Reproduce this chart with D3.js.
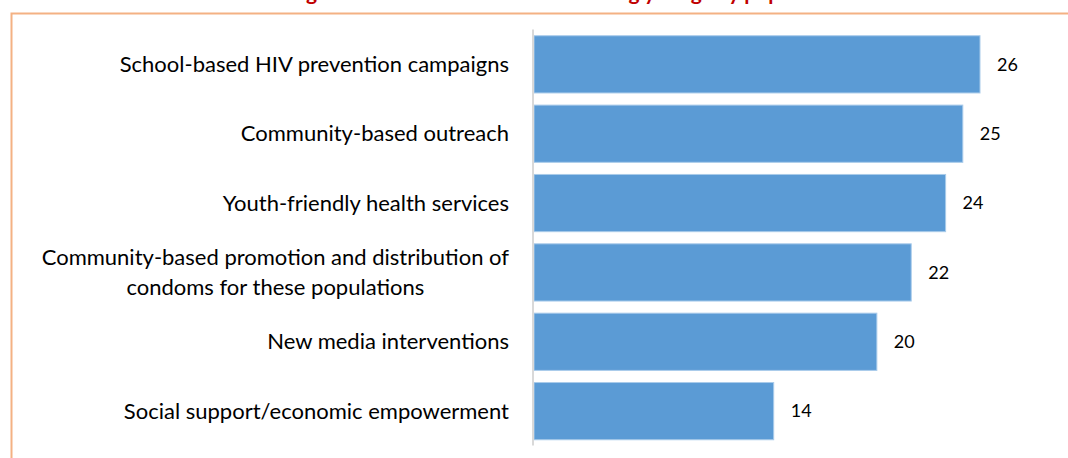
<!DOCTYPE html>
<html>
<head>
<meta charset="utf-8">
<script src="https://cdn.jsdelivr.net/npm/d3@7"></script>
<style>
  body { margin: 0; background: #fff; }
  svg { display: block; font-family: Lato, "Open Sans", sans-serif; }
</style>
</head>
<body>
<div id="chart"></div>
<script>
// data
var categories = [
  "School-based HIV prevention campaigns",
  "Community-based outreach",
  "Youth-friendly health services",
  "Community-based promotion and distribution of|condoms for these populations",
  "New media interventions",
  "Social support/economic empowerment"
];
var values = [26, 25, 24, 22, 20, 14];
var title = "Ranking of interventions most used among young key populations";

var width = 1068, height = 458;
var margin = {top: 29.5, right: 88, bottom: 12, left: 533};

var svg = d3.select("#chart")
  .append("svg")
  .attr("width", width)
  .attr("height", height);

// frame (top + left border of the chart box)
svg.append("path")
  .attr("d", "M11.5," + height + "V13.5H" + width)
  .attr("fill", "none")
  .attr("stroke", "#F4B183")
  .attr("stroke-width", 2);

// title, mostly cut off at the top of the crop
svg.append("text")
  .attr("x", 548)
  .attr("y", 0)
  .attr("text-anchor", "middle")
  .style("font-size", "21px")
  .style("font-weight", "bold")
  .style("fill", "#C00000")
  .text(title);

var x = d3.scaleLinear()
  .domain([0, 26])
  .range([margin.left, 980]);

var y = d3.scaleBand()
  .domain(categories)
  .range([margin.top, height - margin.bottom])
  .paddingInner(0.175)
  .paddingOuter(0.09);

// bars
svg.selectAll(".bar")
  .data(values)
  .enter()
  .append("rect")
    .attr("class", "bar")
    .attr("x", x(0) + 1)
    .attr("y", function(d, i) { return y(categories[i]); })
    .attr("width", function(d) { return x(d) - x(0) - 1; })
    .attr("height", y.bandwidth())
    .attr("fill", "#5B9BD5")
    .attr("stroke", "#A9CBEA")
    .attr("stroke-width", 1);

// vertical axis line
svg.append("line")
  .attr("x1", x(0))
  .attr("x2", x(0))
  .attr("y1", margin.top)
  .attr("y2", height - margin.bottom - 0.5)
  .attr("stroke", "#D9D9D9")
  .attr("stroke-width", 2);

// value labels
svg.selectAll(".val")
  .data(values)
  .enter()
  .append("text")
    .attr("class", "val")
    .attr("x", function(d) { return x(d) + 17; })
    .attr("y", function(d, i) { return y(categories[i]) + y.bandwidth() / 2; })
    .attr("dy", "0.35em")
    .style("font-size", "18px")
    .style("fill", "#000")
    .text(function(d) { return d; });

// category labels (centered block, right edge at 509)
var cats = svg.selectAll(".cat")
  .data(categories)
  .enter()
  .append("text")
    .attr("class", "cat")
    .style("font-size", "22px")
    .style("fill", "#000")
    .attr("text-anchor", "middle");

cats.each(function(d) {
  var lines = d.split("|");
  var t = d3.select(this);
  var cy = y(d) + y.bandwidth() / 2;
  var lh = 30;
  lines.forEach(function(l, j) {
    t.append("tspan")
      .attr("y", cy + (j - (lines.length - 1) / 2) * lh)
      .attr("dy", "0.35em")
      .text(l);
  });
  // widest line decides the center
  var w = 0;
  t.selectAll("tspan").each(function() { w = Math.max(w, this.getComputedTextLength()); });
  t.selectAll("tspan").attr("x", 509 - w / 2);
});
</script>
</body>
</html>
